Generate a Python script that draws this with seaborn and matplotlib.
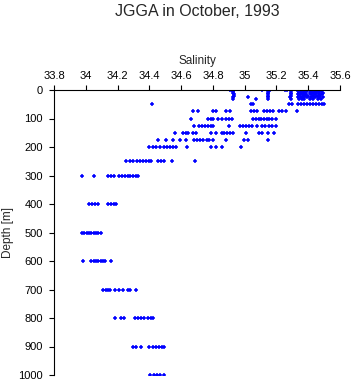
import pandas as pd
import matplotlib
matplotlib.use('Agg')
import matplotlib.pyplot as plt
import seaborn as sns

# salinity readings per depth level (m)
sal_0 = [34.910, 34.923, 34.936, 35.112, 35.251, 35.264, 35.333, 35.352, 35.371,
         35.390, 35.409, 35.428, 35.447, 35.466, 35.485]
sal_5 = [34.929, 35.144, 35.156, 35.289, 35.335, 35.355, 35.375, 35.395, 35.420,
         35.440, 35.460, 35.480]
sal_10 = [34.929, 35.144, 35.289, 35.340, 35.360, 35.380, 35.410, 35.430, 35.450,
          35.470, 35.490]
sal_15 = [34.932, 35.150, 35.292, 35.335, 35.350, 35.370, 35.385, 35.420, 35.440,
          35.465, 35.485]
sal_20 = [34.932, 35.144, 35.289, 35.340, 35.365, 35.380, 35.400, 35.430, 35.455,
          35.475]
sal_25 = [34.929, 35.024, 35.150, 35.286, 35.335, 35.355, 35.370, 35.395, 35.420,
          35.445, 35.470, 35.490]
sal_30 = [34.929, 35.074, 35.144, 35.289, 35.340, 35.360, 35.375, 35.410, 35.430,
          35.460, 35.480]
sal_50 = [34.418, 35.043, 35.055, 35.276, 35.295, 35.333, 35.352, 35.371, 35.390,
          35.409, 35.428, 35.447, 35.466, 35.485, 35.497]
sal_75 = [34.675, 34.705, 34.803, 34.822, 34.885, 34.905, 35.040, 35.060, 35.080,
          35.120, 35.140, 35.160, 35.180, 35.215, 35.235, 35.260, 35.330]
sal_100 = [34.665, 34.770, 34.790, 34.800, 34.830, 34.855, 34.880, 34.900, 34.920,
           35.055, 35.070, 35.090, 35.100, 35.120, 35.140, 35.155, 35.170, 35.200]
sal_125 = [34.680, 34.710, 34.730, 34.750, 34.770, 34.790, 34.800, 34.900, 34.970,
           34.990, 35.010, 35.030, 35.045, 35.075, 35.110, 35.125, 35.155, 35.175,
           35.200]
sal_150 = [34.560, 34.610, 34.630, 34.645, 34.675, 34.695, 34.790, 34.820, 34.855,
           34.870, 34.890, 34.910, 34.925, 35.010, 35.090, 35.110, 35.145, 35.185]
sal_175 = [34.455, 34.505, 34.550, 34.595, 34.630, 34.680, 34.700, 34.720, 34.740,
           34.760, 34.775, 34.800, 34.880, 34.995, 35.020, 35.145]
sal_200 = [34.400, 34.420, 34.440, 34.470, 34.490, 34.510, 34.530, 34.550, 34.565,
           34.640, 34.790, 34.820, 34.860, 34.980]
sal_250 = [34.250, 34.280, 34.300, 34.320, 34.340, 34.360, 34.380, 34.400, 34.410,
           34.455, 34.475, 34.490, 34.540, 34.685]
sal_300 = [33.975, 34.050, 34.140, 34.160, 34.175, 34.210, 34.230, 34.245, 34.265,
           34.280, 34.300, 34.315, 34.330]
sal_400 = [34.020, 34.040, 34.060, 34.080, 34.140, 34.160, 34.180, 34.190]
sal_500 = [33.975, 33.990, 34.005, 34.020, 34.035, 34.050, 34.065, 34.080, 34.095]
sal_600 = [33.980, 34.035, 34.050, 34.065, 34.080, 34.095, 34.110, 34.120, 34.160]
sal_700 = [34.110, 34.125, 34.140, 34.150, 34.185, 34.210, 34.235, 34.265, 34.280,
           34.315]
sal_800 = [34.185, 34.220, 34.240, 34.310, 34.330, 34.345, 34.365, 34.390, 34.410,
           34.420]
sal_900 = [34.295, 34.315, 34.345, 34.400, 34.420, 34.440, 34.460, 34.480, 34.495]
sal_1000 = [34.405, 34.430, 34.450, 34.470, 34.495]

depths = [0, 5, 10, 15, 20, 25, 30, 50, 75, 100, 125, 150, 175, 200, 250, 300,
          400, 500, 600, 700, 800, 900, 1000]
sal_lists = [sal_0, sal_5, sal_10, sal_15, sal_20, sal_25, sal_30, sal_50, sal_75,
             sal_100, sal_125, sal_150, sal_175, sal_200, sal_250, sal_300, sal_400,
             sal_500, sal_600, sal_700, sal_800, sal_900, sal_1000]

x_ticks = [33.8, 34, 34.2, 34.4, 34.6, 34.8, 35, 35.2, 35.4, 35.6]
y_ticks = [0, 100, 200, 300, 400, 500, 600, 700, 800, 900, 1000]

rows = [(d, s) for d, sl in zip(depths, sal_lists) for s in sl]
ctd = pd.DataFrame(rows, columns=['depth', 'salinity'])

sns.set_style('ticks')
plt.rcParams['font.family'] = ['Liberation Sans', 'DejaVu Sans']

fig = plt.figure(figsize=(3.53, 3.84), dpi=100)
ax = fig.add_axes([54 / 353, 1 - 375 / 384, 286 / 353, 285 / 384])

sns.scatterplot(data=ctd, x='salinity', y='depth', marker='+', s=12,
                color='blue', linewidth=1.1, ax=ax, legend=False)

ax.set_xlim(33.8, 35.6)
ax.set_ylim(1000, 0)
ax.set_xticks(x_ticks)
ax.set_xticklabels([f'{t:g}' for t in x_ticks])
ax.set_yticks(y_ticks)
ax.set_yticklabels([str(t) for t in y_ticks])

ax.xaxis.set_ticks_position('top')
ax.xaxis.set_label_position('top')
ax.tick_params(axis='both', direction='out', length=3.6, width=0.8,
               labelsize=8, color='black', labelcolor='black')
ax.tick_params(axis='x', pad=3)
ax.tick_params(axis='y', pad=4.5)
for side in ['bottom', 'right']:
    ax.spines[side].set_visible(False)
for side in ['top', 'left']:
    ax.spines[side].set_color('black')
    ax.spines[side].set_linewidth(0.8)

ax.set_xlabel('Salinity', fontsize=8.5, labelpad=5)
ax.set_ylabel('')

fig.text(8.5 / 353, 1 - 232 / 384, 'Depth [m]', rotation=90, ha='center',
         va='center', fontsize=8.5)
fig.text(197 / 353, 1 - 12 / 384, 'JGGA in October, 1993', ha='center',
         va='center', fontsize=11.5)

fig.savefig('out.png', dpi=100)
